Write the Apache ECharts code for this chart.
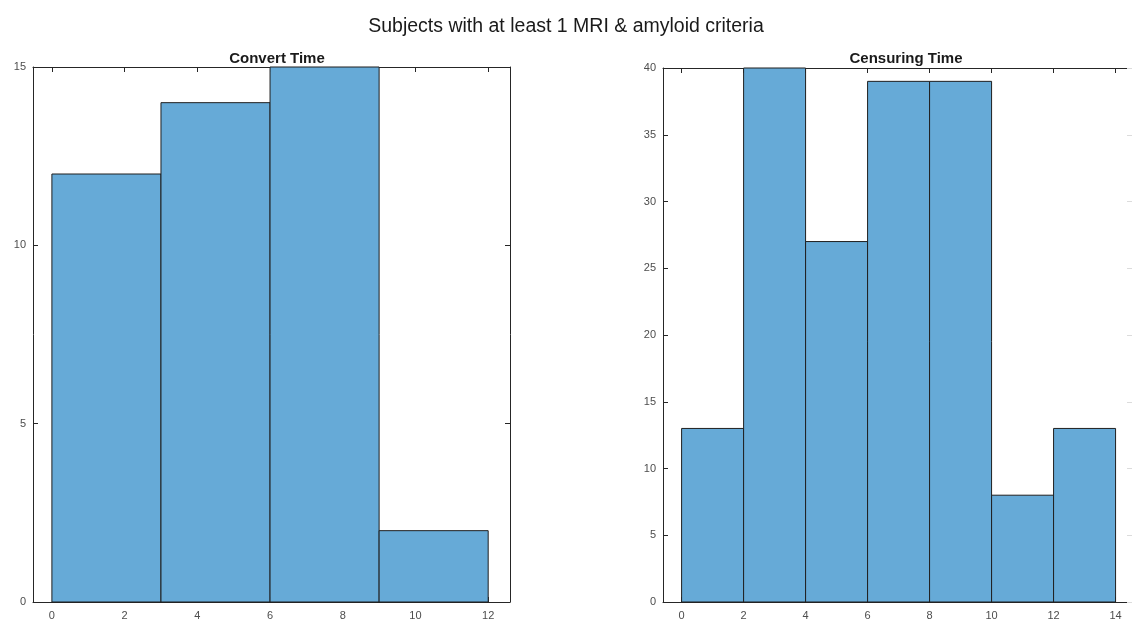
<!DOCTYPE html>
<html>
<head>
<meta charset="utf-8">
<script src="https://cdn.jsdelivr.net/npm/echarts@6/dist/echarts.min.js"></script>
<style>
  html, body { margin: 0; padding: 0; background: #fff; overflow: hidden; }
  #chart { width: 1132px; height: 622px; }
</style>
</head>
<body>
<div id="chart"></div>
<script>
// Histogram bin edges and counts
const convertEdges = [0, 3, 6, 9, 12];
const convertCounts = [12, 14, 15, 2];
const censorEdges = [0, 2, 4, 6, 8, 10, 12, 14];
const censorCounts = [13, 40, 27, 39, 39, 8, 13];

const convertXTicks = [0, 2, 4, 6, 8, 10, 12];
const censorXTicks = [0, 2, 4, 6, 8, 10, 12, 14];

const mainTitle = 'Subjects with at least 1 MRI & amyloid criteria';
const leftTitle = 'Convert Time';
const rightTitle = 'Censuring Time';

const FONT = '"Liberation Sans", Arial, sans-serif';
const AXIS_COLOR = '#262626';
const LABEL_COLOR = '#4d4d4d';
const BAR_FILL = '#66aad7';
const BAR_EDGE = '#1f1f1f';

function binData(edges, counts) {
  return counts.map((c, i) => [edges[i], edges[i + 1], c]);
}

// Each bin is a rectangle spanning [left edge, right edge] x [0, count]
function histRender(params, api) {
  const x0 = api.value(0), x1 = api.value(1), h = api.value(2);
  const p0 = api.coord([x0, h]);
  const p1 = api.coord([x1, 0]);
  return {
    type: 'rect',
    shape: { x: p0[0], y: p0[1], width: p1[0] - p0[0], height: p1[1] - p0[1] },
    style: { fill: BAR_FILL, stroke: BAR_EDGE, lineWidth: 1 }
  };
}

function bottomX(gridIndex, min, max, ticks) {
  return {
    type: 'value', gridIndex, min, max, position: 'bottom',
    axisLine: { show: true, onZero: false, lineStyle: { color: AXIS_COLOR, width: 1 } },
    axisTick: { show: true, inside: true, length: 5, customValues: ticks, lineStyle: { color: AXIS_COLOR } },
    axisLabel: { show: true, customValues: ticks, color: LABEL_COLOR, fontFamily: FONT, fontSize: 11, margin: 8 },
    splitLine: { show: false }
  };
}
function topX(gridIndex, min, max, ticks) {
  return {
    type: 'value', gridIndex, min, max, position: 'top',
    axisLine: { show: true, onZero: false, lineStyle: { color: AXIS_COLOR, width: 1 } },
    axisTick: { show: true, inside: true, length: 5, customValues: ticks, lineStyle: { color: AXIS_COLOR } },
    axisLabel: { show: false },
    splitLine: { show: false }
  };
}
function leftY(gridIndex, max, interval) {
  return {
    type: 'value', gridIndex, min: 0, max, interval, position: 'left',
    axisLine: { show: true, onZero: false, lineStyle: { color: AXIS_COLOR, width: 1 } },
    axisTick: { show: true, inside: true, length: 5, lineStyle: { color: AXIS_COLOR } },
    axisLabel: { show: true, color: LABEL_COLOR, fontFamily: FONT, fontSize: 11, margin: 7 },
    splitLine: { show: false }
  };
}
function rightY(gridIndex, max, interval, color) {
  return {
    type: 'value', gridIndex, min: 0, max, interval, position: 'right',
    axisLine: { show: true, onZero: false, lineStyle: { color, width: 1 } },
    axisTick: { show: true, inside: true, length: 5, lineStyle: { color } },
    axisLabel: { show: false },
    splitLine: { show: false }
  };
}

const chart = echarts.init(document.getElementById('chart'), null, { renderer: 'canvas' });
chart.setOption({
  backgroundColor: '#ffffff',
  animation: false,
  title: [
    { text: mainTitle, left: 561, top: 12, textAlign: 'center',
      textStyle: { fontFamily: FONT, fontSize: 19.5, fontWeight: 'normal', color: '#1a1a1a' } },
    { text: leftTitle, left: 272, top: 46, textAlign: 'center',
      textStyle: { fontFamily: FONT, fontSize: 15, fontWeight: 'bold', color: '#1a1a1a' } },
    { text: rightTitle, left: 901, top: 46, textAlign: 'center',
      textStyle: { fontFamily: FONT, fontSize: 15, fontWeight: 'bold', color: '#1a1a1a' } }
  ],
  grid: [
    { left: 33, top: 67, width: 477, height: 535 },
    { left: 663, top: 68, width: 472, height: 534 }
  ],
  xAxis: [
    bottomX(0, -0.52, 12.6, convertXTicks),
    topX(0, -0.52, 12.6, convertXTicks),
    bottomX(1, -0.6, 14.53, censorXTicks),
    topX(1, -0.6, 14.53, censorXTicks)
  ],
  yAxis: [
    leftY(0, 15, 5),
    rightY(0, 15, 5, AXIS_COLOR),
    leftY(1, 40, 5),
    rightY(1, 40, 5, '#dcdcdc')
  ],
  series: [
    { type: 'custom', xAxisIndex: 0, yAxisIndex: 0, renderItem: histRender,
      data: binData(convertEdges, convertCounts), encode: { x: [0, 1], y: 2 } },
    { type: 'custom', xAxisIndex: 2, yAxisIndex: 2, renderItem: histRender,
      data: binData(censorEdges, censorCounts), encode: { x: [0, 1], y: 2 } }
  ]
});
</script>
</body>
</html>
